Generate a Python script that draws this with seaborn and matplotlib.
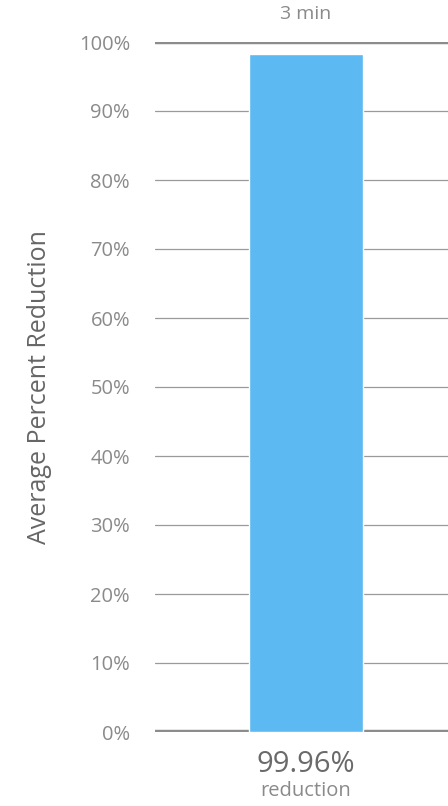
import matplotlib
matplotlib.use("Agg")
import matplotlib.pyplot as plt
import seaborn as sns
import pandas as pd

# data
times = ["3 min"]
bar_heights = [98.3]          # drawn height of the bar (%)
reduction_labels = ["99.96%"]
y_ticks = [0, 10, 20, 30, 40, 50, 60, 70, 80, 90, 100]
y_tick_labels = [f"{t}%" for t in y_ticks]

BAR_COLOR = "#5db9f1"
TEXT_GRAY = "#8a8a8a"

sns.set_theme(style="white")
plt.rcParams["font.family"] = ["Open Sans", "DejaVu Sans"]

df = pd.DataFrame({"time": times, "reduction": bar_heights})

fig = plt.figure(figsize=(4.48, 8.06), dpi=100)
ax = fig.add_axes([155 / 448, 1 - 732 / 806, 293 / 448, 690 / 806])

# gridlines behind the bar
for t in y_ticks:
    if t in (0, 100):
        ax.axhline(t, color="#8c8c8c", linewidth=3.2, zorder=1)
    else:
        ax.axhline(t, color="#9a9a9a", linewidth=0.9, zorder=1)

sns.barplot(data=df, x="time", y="reduction", color=BAR_COLOR,
            width=0.5, saturation=1, ax=ax, zorder=2)

ax.set_xlim(-0.662, 0.623)
ax.set_ylim(0, 100)
ax.set_yticks(y_ticks)
ax.set_yticklabels(y_tick_labels, color=TEXT_GRAY, fontsize=14.5)
ax.tick_params(axis="y", length=0, pad=18)
ax.set_xticks([])
ax.set_xlabel("")
ax.set_ylabel("Average Percent Reduction", color="#666666", fontsize=18)
ax.yaxis.set_label_coords(-0.35, 0.5)
for s in ax.spines.values():
    s.set_visible(False)

for i, (t, lab) in enumerate(zip(times, reduction_labels)):
    ax.text(i, 100 + 28 / 6.9, t, ha="center", va="center",
            color=TEXT_GRAY, fontsize=14, clip_on=False)
    ax.text(i, -33 / 6.9, lab, ha="center", va="center",
            color="#6a6a6a", fontsize=21, clip_on=False)
    ax.text(i, -59 / 6.9, "reduction", ha="center", va="center",
            color=TEXT_GRAY, fontsize=14.5, clip_on=False)

fig.savefig("out.png", dpi=100)
